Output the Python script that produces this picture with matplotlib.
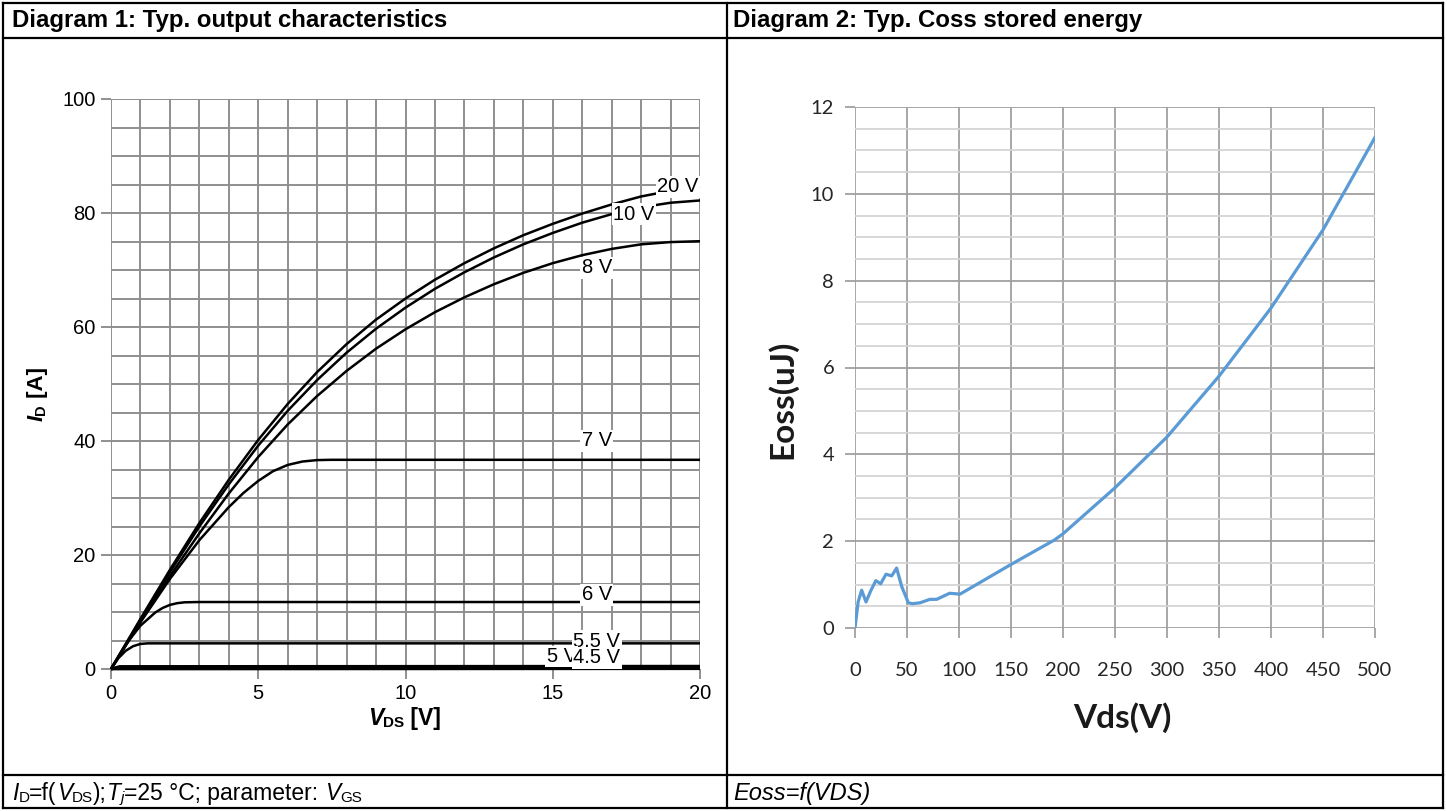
import numpy as np
import matplotlib
matplotlib.use("Agg")
import matplotlib.pyplot as plt
from matplotlib.lines import Line2D

W, H = 1447, 811

# ---- Diagram 1 data: output characteristics
vds = [0, 1, 2, 3, 4, 5, 6, 7, 8, 9, 10, 11, 12, 13, 14, 15, 16, 17, 18, 19, 20]
id_20v = [0, 8.8, 17.4, 25.6, 33.2, 40.2, 46.5, 52.1, 57.0, 61.3, 65.0, 68.3, 71.2, 73.8, 76.1, 78.1, 79.9, 81.5, 82.9, 83.9, 84.7]
id_10v = [0, 8.6, 17.0, 25.0, 32.4, 39.2, 45.3, 50.7, 55.5, 59.7, 63.4, 66.7, 69.6, 72.2, 74.5, 76.5, 78.3, 79.8, 81.0, 81.8, 82.2]
id_8v = [0, 8.3, 16.3, 23.8, 30.8, 37.2, 42.9, 47.9, 52.3, 56.2, 59.6, 62.6, 65.2, 67.5, 69.5, 71.2, 72.6, 73.7, 74.5, 74.9, 75.05]
vds_7v = [0, 1, 2, 3, 4, 4.5, 5, 5.5, 6, 6.5, 7, 7.5, 20]
id_7v = [0, 8.2, 15.8, 22.6, 28.4, 30.9, 33.0, 34.7, 35.8, 36.4, 36.65, 36.7, 36.7]
vds_6v = [0, 0.5, 1.0, 1.5, 1.75, 2.0, 2.25, 2.5, 3.0, 20]
id_6v = [0, 4.3, 7.6, 9.9, 10.7, 11.25, 11.55, 11.7, 11.75, 11.75]
vds_55v = [0, 0.25, 0.5, 0.75, 1.0, 1.25, 20]
id_55v = [0, 1.9, 3.2, 4.0, 4.4, 4.5, 4.5]
vds_5v = [0, 0.3, 20]
id_5v = [0, 0.4, 0.45]
vds_45v = [0, 20]
id_45v = [0.05, 0.1]

# curve labels: text, x (V), y (A)
curve_labels = [("20 V", 19.25, 84.6), ("10 V", 17.75, 79.8), ("8 V", 16.5, 70.4),
                ("7 V", 16.5, 40.0), ("6 V", 16.5, 13.0), ("5.5 V", 16.5, 4.9),
                ("5 V", 15.3, 2.2), ("4.5 V", 16.5, 2.0)]

# ---- Diagram 2 data: Coss stored energy
vds2 = [0, 3, 6.4, 10.6, 15, 20, 24.7, 29.8, 35.3, 40, 45, 51.3, 55, 62.5, 72, 78.5,
        91, 101, 149, 192, 200, 250, 300, 350, 400, 450, 500]
eoss = [0, 0.6, 0.87, 0.6, 0.85, 1.09, 1.02, 1.24, 1.2, 1.38, 0.95, 0.58, 0.56, 0.58, 0.66, 0.66,
        0.8, 0.78, 1.45, 2.03, 2.17, 3.23, 4.4, 5.8, 7.37, 9.17, 11.3]

fig = plt.figure(figsize=(W / 100, H / 100), dpi=100)
fig.patch.set_facecolor("white")


def fx(x):
    return x / W


def fy(y):
    return 1 - y / H


def line_px(x0, y0, x1, y1, lw=1.6):
    fig.add_artist(Line2D([fx(x0), fx(x1)], [fy(y0), fy(y1)], transform=fig.transFigure,
                          color="black", lw=lw, solid_capstyle="projecting"))


# table frame
line_px(3, 3, 1443, 3)
line_px(3, 808, 1443, 808)
line_px(3, 3, 3, 808)
line_px(1443, 3, 1443, 808)
line_px(727, 3, 727, 808)
line_px(3, 38, 1443, 38)
line_px(3, 775, 1443, 775)

renderer = fig.canvas.get_renderer()


def rich(x, y, parts, rot=False):
    # parts: (text, size, style, weight, shift)
    for s, size, style, weight, shift in parts:
        if not rot:
            t = fig.text(fx(x), fy(y + shift), s, fontsize=size, style=style, weight=weight,
                         family="Liberation Sans", ha="left", va="baseline")
            x += t.get_window_extent(renderer).width
        else:
            t = fig.text(fx(x + shift), fy(y), s, fontsize=size, style=style, weight=weight,
                         family="Liberation Sans", ha="left", va="baseline",
                         rotation=90, rotation_mode="anchor")
            y -= t.get_window_extent(renderer).height


# headers
fig.text(fx(12), fy(27), "Diagram 1: Typ. output characteristics", fontsize=17.3,
         weight="bold", family="Liberation Sans", ha="left", va="baseline")
fig.text(fx(733), fy(27), "Diagram 2: Typ. Coss stored energy", fontsize=17.3,
         weight="bold", family="Liberation Sans", ha="left", va="baseline")

# captions
rich(12, 800, [("I", 16.5, "italic", "normal", 0), ("D", 11, "normal", "normal", 2),
               ("=f(", 16.5, "normal", "normal", 0), ("V", 16.5, "italic", "normal", 0),
               ("DS", 11, "normal", "normal", 2), (");", 16.5, "normal", "normal", 0),
               ("T", 16.5, "italic", "normal", 0), ("j", 11, "italic", "normal", 2),
               ("=25 °C; parameter: ", 16.5, "normal", "normal", 0), ("V", 16.5, "italic", "normal", 0),
               ("GS", 11, "normal", "normal", 2)])
fig.text(fx(733), fy(800), "Eoss=f(VDS)", fontsize=17, style="italic",
         family="Liberation Sans", ha="left", va="baseline")

# ---------------- Diagram 1
grid1 = "#8f8f8f"
ax1 = fig.add_axes([fx(111), fy(669), (700 - 111) / W, (669 - 99) / H])
ax1.set_xlim(0, 20)
ax1.set_ylim(0, 100)
ax1.set_xticks(np.arange(0, 21, 5))
ax1.set_yticks(np.arange(0, 101, 20))
ax1.set_xticks(np.arange(0, 21, 1), minor=True)
ax1.set_yticks(np.arange(0, 101, 5), minor=True)
ax1.grid(which="both", color=grid1, lw=1.4)
ax1.set_axisbelow(True)
for sp in ax1.spines.values():
    sp.set_visible(False)
ax1.tick_params(which="major", length=7, width=1.4, color=grid1, labelsize=14.5, pad=4)
ax1.tick_params(which="minor", length=0)
for lab in ax1.get_xticklabels() + ax1.get_yticklabels():
    lab.set_family("Liberation Sans")

for xs, ys, w in [(vds, id_20v, 1.8), (vds, id_10v, 1.8), (vds, id_8v, 1.8), (vds_7v, id_7v, 1.8),
                  (vds_6v, id_6v, 1.8), (vds_55v, id_55v, 1.8), (vds_5v, id_5v, 2.4),
                  (vds_45v, id_45v, 2.4)]:
    ax1.plot(xs, ys, color="black", lw=w, clip_on=False, zorder=3, solid_joinstyle="round",
             solid_capstyle="butt")

for txt, lx, ly in curve_labels:
    ax1.text(lx, ly, txt, fontsize=14.5, family="Liberation Sans", ha="center", va="center",
             zorder=5, clip_on=False, bbox=dict(facecolor="white", edgecolor="none", pad=1.0))

rich(368, 725, [("V", 16.5, "italic", "bold", 0), ("DS", 11, "normal", "bold", 2),
                (" [V]", 16.5, "normal", "bold", 0)])
rich(43, 421, [("I", 16, "italic", "bold", 0), ("D", 10.5, "normal", "bold", 2),
               (" [A]", 16, "normal", "bold", 0)], rot=True)

# ---------------- Diagram 2
ax2 = fig.add_axes([fx(855), fy(628), (1375 - 855) / W, (628 - 107) / H])
ax2.set_xlim(0, 500)
ax2.set_ylim(0, 12)
ax2.set_xticks(np.arange(0, 501, 50))
ax2.set_yticks(np.arange(0, 13, 2))
ax2.set_yticks(np.arange(0, 12.01, 0.5), minor=True)
ax2.grid(which="major", color="#a0a0a0", lw=1.3)
ax2.grid(which="minor", axis="y", color="#d4d4d4", lw=1.3)
ax2.set_axisbelow(True)
for sp in ax2.spines.values():
    sp.set_visible(False)
ax2.tick_params(which="major", length=7, width=1.3, color="#a0a0a0", labelsize=14.5,
                labelcolor="#262626")
ax2.tick_params(axis="x", pad=17.5)
ax2.tick_params(axis="y", pad=8)
ax2.tick_params(which="minor", length=0)
for lab in ax2.get_xticklabels() + ax2.get_yticklabels():
    lab.set_family("Lato")

ax2.plot(vds2, eoss, color="#5b9bd5", lw=2.3, zorder=3)

fig.text(fx(1122), fy(718), "Vds(V)", fontsize=24, weight="bold", family="Lato",
         ha="center", va="center", color="#1a1a1a")
fig.text(fx(782), fy(399), "Eoss(uJ)", fontsize=24, weight="bold", family="Lato",
         ha="center", va="center", rotation=90, color="#1a1a1a")

fig.savefig("out.png", dpi=100)
